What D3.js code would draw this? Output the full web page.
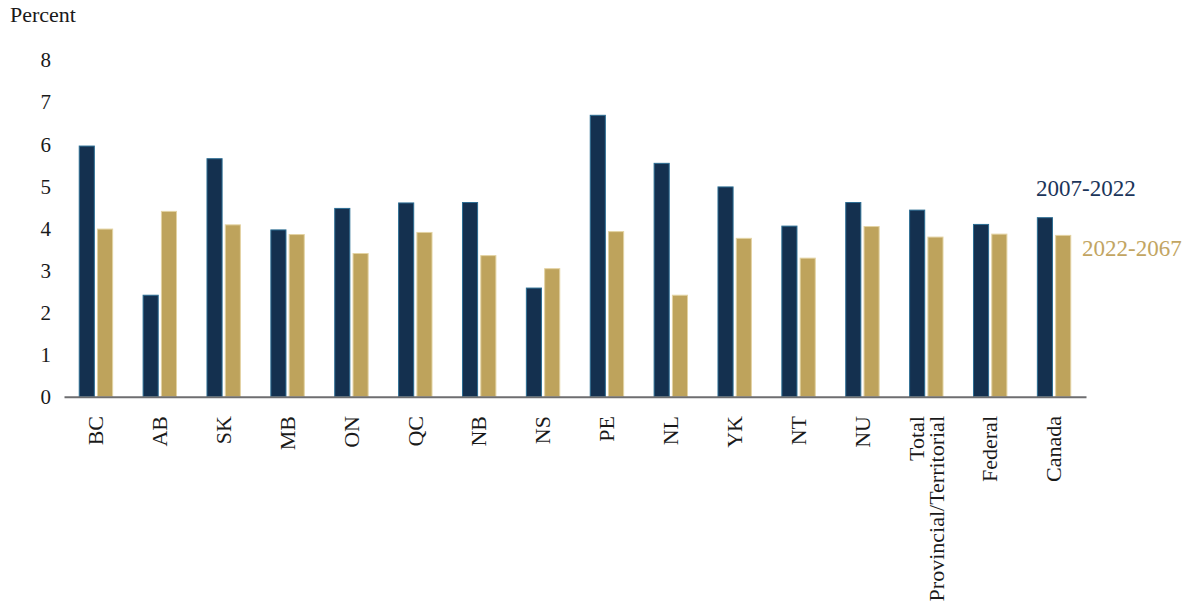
<!DOCTYPE html>
<html>
<head>
<meta charset="utf-8">
<script src="https://cdn.jsdelivr.net/npm/d3@7"></script>
<style>
  html, body { margin: 0; padding: 0; background: #ffffff; }
  svg { display: block; font-family: "Liberation Serif", "Times New Roman", serif; }
</style>
</head>
<body>
<svg id="chart" width="1187" height="611"></svg>
<script>
// Growth rates by jurisdiction, two periods (percent)
const categories = ["BC", "AB", "SK", "MB", "ON", "QC", "NB", "NS", "PE", "NL", "YK", "NT", "NU",
                    "Total\nProvincial/Territorial", "Federal", "Canada"];
const seriesNames = ["2007-2022", "2022-2067"];
const values2007_2022 = [5.96, 2.42, 5.66, 3.97, 4.48, 4.61, 4.62, 2.59, 6.69, 5.55, 4.99, 4.06, 4.62, 4.44, 4.10, 4.26];
const values2022_2067 = [3.99, 4.41, 4.09, 3.86, 3.41, 3.91, 3.36, 3.05, 3.93, 2.42, 3.77, 3.30, 4.05, 3.80, 3.87, 3.84];
const yTicks = [0, 1, 2, 3, 4, 5, 6, 7, 8];

const colors = { "2007-2022": "#14304f", "2022-2067": "#bea35c" };
const edges  = { "2007-2022": "#2c6d93", "2022-2067": "#e3d3a3" };
const labelColors = { "2007-2022": "#1b355a", "2022-2067": "#c2a562" };

const svg = d3.select("#chart");
const plotLeft = 64, plotRight = 1086, plotTop = 59.6, plotBottom = 396.7;

const x0 = d3.scaleBand().domain(categories).range([plotLeft, plotRight]).paddingInner(0).paddingOuter(0);
const bw = x0.bandwidth();
const groupHalf = 17.2;
const x1 = d3.scaleBand().domain(seriesNames).range([bw / 2 - groupHalf, bw / 2 + groupHalf]).paddingInner(0.12);
const y = d3.scaleLinear().domain([0, 8]).range([plotBottom, plotTop]);

const rows = categories.map((c, i) => ({
  cat: c,
  vals: [
    { s: "2007-2022", v: values2007_2022[i] },
    { s: "2022-2067", v: values2022_2067[i] }
  ]
}));

// Y axis: tick labels only
const yAxis = d3.axisLeft(y).tickValues(yTicks).tickSize(0).tickPadding(0).tickFormat(d3.format("d"));
const gy = svg.append("g").attr("transform", `translate(${51},0)`).call(yAxis);
gy.select(".domain").remove();
gy.selectAll("text")
  .attr("font-family", "Liberation Serif, serif")
  .attr("font-size", 21)
  .attr("fill", "#1a1a1a")
  .attr("dy", "0.34em");

// Axis title
svg.append("text")
  .attr("x", 10).attr("y", 22)
  .attr("font-size", 22)
  .attr("fill", "#1a1a1a")
  .text("Percent");

// Bars
const groups = svg.append("g").selectAll("g")
  .data(rows).join("g")
  .attr("transform", d => `translate(${x0(d.cat)},0)`);

groups.selectAll("rect")
  .data(d => d.vals).join("rect")
  .attr("x", d => x1(d.s) + 0.5)
  .attr("y", d => y(d.v) + 0.5)
  .attr("width", x1.bandwidth() - 1)
  .attr("height", d => y(0) - y(d.v) - 0.5)
  .attr("fill", d => colors[d.s])
  .attr("stroke", d => edges[d.s])
  .attr("stroke-width", 1);

// Baseline
const xAxis = d3.axisBottom(x0).tickSize(0).tickFormat("");
const gx = svg.append("g").attr("transform", `translate(0,${plotBottom})`).call(xAxis);
gx.select(".domain").attr("stroke", "#6e6e70").attr("stroke-width", 2);

// Category labels, rotated
const lab = svg.append("g").selectAll("text")
  .data(categories).join("text")
  .attr("transform", d => `translate(${x0(d) + bw / 2},${416}) rotate(-90)`)
  .attr("text-anchor", "end")
  .attr("font-size", 22)
  .attr("fill", "#1a1a1a");
lab.each(function (d) {
  const lines = d.split("\n");
  const t = d3.select(this);
  const n = lines.length;
  lines.forEach((ln, i) => {
    t.append("tspan")
      .attr("x", 0)
      .attr("y", (i - (n - 1) / 2) * 20)
      .attr("dy", "0.33em")
      .text(ln);
  });
});

// Series labels
svg.append("text")
  .attr("x", 1036).attr("y", 196)
  .attr("font-size", 23)
  .attr("fill", labelColors["2007-2022"])
  .text(seriesNames[0]);
svg.append("text")
  .attr("x", 1082).attr("y", 256)
  .attr("font-size", 23)
  .attr("fill", labelColors["2022-2067"])
  .text(seriesNames[1]);
</script>
</body>
</html>
